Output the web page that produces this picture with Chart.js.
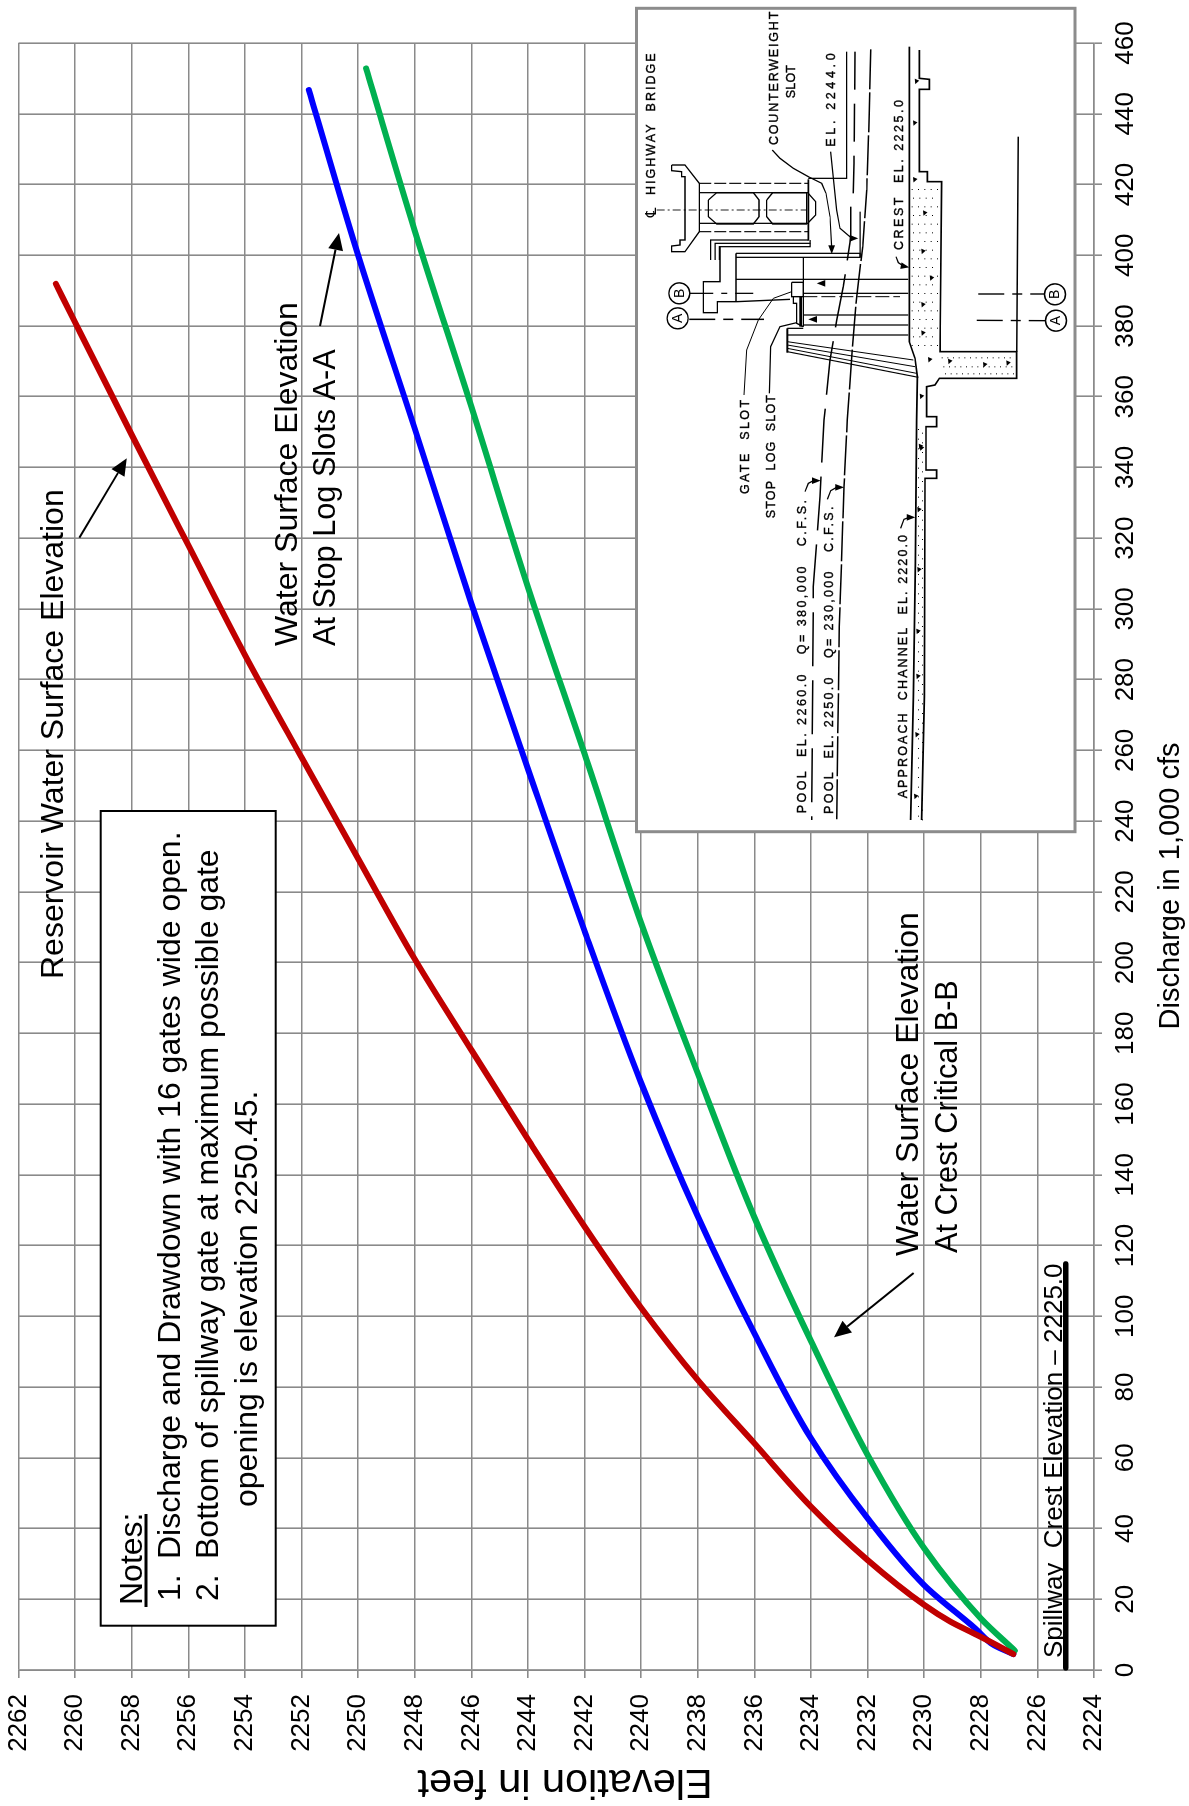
<!DOCTYPE html>
<html>
<head>
<meta charset="utf-8">
<title>Discharge and Drawdown</title>
<script src="https://cdn.jsdelivr.net/npm/chart.js@4"></script>
<style>
html, body { margin: 0; padding: 0; background: #fff; }
#wrap { position: relative; width: 1189px; height: 1806px; overflow: hidden; }
/* the whole sheet is a landscape chart turned a quarter turn */
#spillwayChart { position: absolute; left: 0; top: 0; transform-origin: 0 0; transform: translate(0, 1806px) rotate(-90deg); }
</style>
</head>
<body>
<div id="wrap"><canvas id="spillwayChart" width="1806" height="1189"></canvas></div>
<script>
// Discharge (1,000 cfs) and elevation (feet)
const reservoirQ = [4.5, 7.5, 10.4, 13.7, 18.4, 31.1, 46.2, 64.1, 82, 102.4, 125.4, 150, 175.3, 201, 229.4, 258, 287, 318, 349.2, 381, 391.9];
const reservoirElev = [2226.85, 2227.55, 2228.26, 2229.08, 2230, 2232, 2234, 2236, 2238, 2240, 2242, 2244, 2246, 2248, 2250, 2252, 2254, 2256, 2258, 2260, 2260.68];

const stopLogQ = [4.5, 7.1, 11.8, 24, 42.9, 65.5, 95.2, 128.3, 166, 209, 254.8, 301.5, 351, 400, 446.7];
const stopLogElev = [2226.85, 2227.55, 2228.2, 2230, 2232, 2234, 2236, 2238, 2240, 2242, 2244, 2246, 2248, 2250, 2251.74];

const crestCriticalQ = [5.5, 14.6, 34.4, 60.8, 93, 128, 168.7, 211.2, 259, 306.2, 357.2, 407, 452.8];
const crestCriticalElev = [2226.8, 2228, 2230, 2232, 2234, 2236, 2238, 2240, 2242, 2244, 2246, 2248, 2249.72];

const spillwayCrestQ = [0.6, 114.8];
const spillwayCrestElev = [2225, 2225];

const dischargeTicks = {min: 0, max: 460, step: 20};
const elevationTicks = {min: 2224, max: 2262, step: 2};

const FONT = '"Liberation Sans", Arial, sans-serif';

// sheet coordinates (as seen on the page) to canvas coordinates
function P(px, py) { return [1806 - py, px]; }

function sheetText(ctx, str, px, py, size, align) {
    ctx.font = size + "px " + FONT;
    ctx.fillStyle = "#000";
    ctx.textAlign = align || "left";
    ctx.textBaseline = "alphabetic";
    const p = P(px, py);
    ctx.fillText(str, p[0], p[1]);
}

function arrow(ctx, x0, y0, x1, y1) {
    const a = P(x0, y0), b = P(x1, y1);
    const ang = Math.atan2(b[1] - a[1], b[0] - a[0]);
    const len = 17, half = 7.5;
    const bx = b[0] - len * Math.cos(ang), by = b[1] - len * Math.sin(ang);
    ctx.strokeStyle = "#000";
    ctx.lineWidth = 2;
    ctx.beginPath();
    ctx.moveTo(a[0], a[1]);
    ctx.lineTo(bx, by);
    ctx.stroke();
    ctx.fillStyle = "#000";
    ctx.beginPath();
    ctx.moveTo(b[0], b[1]);
    ctx.lineTo(bx - half * Math.sin(ang), by + half * Math.cos(ang));
    ctx.lineTo(bx + half * Math.sin(ang), by - half * Math.cos(ang));
    ctx.closePath();
    ctx.fill();
}

// ---- spillway section sketch. Its points are measured in a 3x grid with origin at sheet (640, 30)
function Z(x, y) { return [1776 - y / 3, 640 + x / 3]; }

function sketchLine(ctx, pts, lw, dash) {
    ctx.lineWidth = (lw || 1) * 1.25;
    ctx.setLineDash(dash || []);
    ctx.beginPath();
    pts.forEach((p, i) => {
        const q = Z(p[0], p[1]);
        if (i == 0) ctx.moveTo(q[0], q[1]); else ctx.lineTo(q[0], q[1]);
    });
    ctx.stroke();
    ctx.setLineDash([]);
}

function sketchText(ctx, str, x, yStart, yEnd) {
    ctx.font = "12.5px " + FONT;
    ctx.letterSpacing = "0px";
    const target = (yStart - yEnd) / 3;
    const w = ctx.measureText(str).width;
    ctx.letterSpacing = ((target - w) / (str.length - 1)).toFixed(2) + "px";
    ctx.textAlign = "left";
    ctx.textBaseline = "alphabetic";
    ctx.fillStyle = "#000";
    ctx.strokeStyle = "#000";
    ctx.lineWidth = 0.35;
    const q = Z(x, yStart);
    ctx.fillText(str, q[0], q[1]);
    ctx.strokeText(str, q[0], q[1]);
    ctx.letterSpacing = "0px";
}

function sketchCircle(ctx, label, x, y) {
    const q = Z(x, y);
    ctx.lineWidth = 1.4;
    ctx.beginPath();
    ctx.arc(q[0], q[1], 10.5, 0, Math.PI * 2);
    ctx.stroke();
    ctx.font = "14px " + FONT;
    ctx.textAlign = "center";
    ctx.textBaseline = "middle";
    ctx.fillStyle = "#000";
    ctx.fillText(label, q[0], q[1] + 0.5);
}

function sketchHead(ctx, x, y, dx, dy) {
    // small solid arrow head, (dx,dy) points at the tip
    const n = Math.hypot(dx, dy), ux = dx / n, uy = dy / n;
    const a = Z(x, y), b = Z(x - 26 * ux + 10 * uy, y - 26 * uy - 10 * ux), c = Z(x - 26 * ux - 10 * uy, y - 26 * uy + 10 * ux);
    ctx.fillStyle = "#000";
    ctx.beginPath();
    ctx.moveTo(a[0], a[1]); ctx.lineTo(b[0], b[1]); ctx.lineTo(c[0], c[1]);
    ctx.closePath();
    ctx.fill();
}

function drawSketch(ctx) {
    ctx.strokeStyle = "#000";
    ctx.lineCap = "butt";
    ctx.lineJoin = "miter";

    // highway bridge
    sketchLine(ctx, [[95,405],[135,405],[178,460],[178,605],[135,665],[95,665],[95,648],[120,645],[120,630],[135,630],[135,440],[125,440],[125,425],[95,422],[95,405]], 1.1);
    sketchLine(ctx, [[178,460],[505,460]], 0.9, [12, 3]);
    sketchLine(ctx, [[178,488],[505,488]], 1);
    sketchLine(ctx, [[178,580],[505,580]], 1);
    sketchLine(ctx, [[178,605],[505,605]], 0.9, [12, 3]);
    sketchLine(ctx, [[505,448],[505,632]], 1.3);
    sketchLine(ctx, [[205,510],[230,488],[340,488],[357,510],[357,560],[340,582],[230,582],[205,560],[205,510]], 1.1);
    sketchLine(ctx, [[380,510],[398,488],[500,488],[500,582],[398,582],[380,560],[380,510]], 1.1);
    sketchLine(ctx, [[505,490],[527,515],[527,555],[505,578]], 1.1);
    sketchLine(ctx, [[50,540],[500,540]], 0.7, [8, 3, 2, 3]);

    // column and pier
    sketchLine(ctx, [[212,690],[212,630],[505,630]], 1);
    sketchLine(ctx, [[225,690],[225,640],[510,640],[510,630]], 1);
    sketchLine(ctx, [[238,690],[238,650],[510,650],[510,640]], 1);
    sketchLine(ctx, [[240,650],[240,755],[190,755],[190,848],[232,848],[232,815],[290,815],[450,808]], 1.1);
    sketchLine(ctx, [[288,670],[288,815]], 1.1);
    sketchLine(ctx, [[288,670],[660,670],[660,682],[288,682]], 1);
    sketchLine(ctx, [[660,545],[660,682]], 1);
    sketchLine(ctx, [[490,682],[490,890]], 1);
    sketchLine(ctx, [[288,748],[805,748]], 1);
    sketchLine(ctx, [[490,790],[805,790]], 1);
    sketchLine(ctx, [[490,800],[780,800]], 0.8, [14, 4]);
    sketchLine(ctx, [[490,855],[805,855]], 1);
    sketchLine(ctx, [[490,885],[805,885]], 1);
    sketchLine(ctx, [[455,757],[490,757],[490,800],[455,800],[455,757]], 1.1);
    sketchLine(ctx, [[460,800],[460,820],[470,820],[470,880],[490,890]], 1.1);
    sketchLine(ctx, [[482,800],[482,890]], 2.2);
    sketchLine(ctx, [[442,895],[490,895]], 1);
    sketchLine(ctx, [[442,895],[442,968]], 1.6);
    sketchLine(ctx, [[442,915],[805,915]], 1);
    sketchLine(ctx, [[442,935],[820,990]], 0.8);
    sketchLine(ctx, [[442,945],[825,1010]], 0.8);
    sketchLine(ctx, [[442,955],[830,1030]], 0.8);
    sketchLine(ctx, [[442,965],[835,1042]], 0.9);

    // water surface lines and the counterweight slot
    sketchLine(ctx, [[692,58],[688,250],[680,480],[668,650],[650,800],[635,980],[622,1170],[612,1370],[598,1790],[590,2370]], 1.2, [40, 3]);
    sketchLine(ctx, [[645,65],[642,400],[640,490]], 1.2, [38, 14]);
    sketchLine(ctx, [[632,530],[632,622],[610,770],[590,870],[570,990],[552,1170],[540,1400],[520,1670],[515,2370]], 1.2, [54, 14]);
    sketchLine(ctx, [[620,65],[620,445],[505,445]], 1);

    // spillway floor
    sketchLine(ctx, [[808,50],[808,935],[825,985],[832,1040],[830,1170],[826,1600],[820,2000],[812,2370]], 1.3);
    sketchLine(ctx, [[838,60],[838,145],[868,148],[868,178],[838,178],[838,425],[862,425],[862,455],[905,455],[900,965],[1130,965],[1130,1045],[898,1045],[885,1065],[860,1070],[860,1160],[890,1160],[890,1190],[858,1190],[858,1320],[890,1320],[890,1345],[855,1345],[853,2000],[845,2370]], 1.3);
    sketchLine(ctx, [[1135,320],[1130,965]], 1.2);

    // leaders
    sketchLine(ctx, [[397,360],[420,385],[460,415],[505,440],[545,460],[558,490],[570,560],[575,650]], 1);
    sketchHead(ctx, 575, 672, 0, 1);
    sketchLine(ctx, [[572,365],[590,540],[600,595],[632,622]], 1);
    sketchHead(ctx, 655, 625, 1, 0);
    sketchLine(ctx, [[768,680],[775,698],[790,708]], 1);
    sketchHead(ctx, 808, 712, 1, 0.2);
    sketchLine(ctx, [[312,1095],[320,960],[355,870],[400,805],[455,785]], 0.8);
    sketchLine(ctx, [[388,1090],[392,950],[420,890],[470,878]], 1);
    sketchLine(ctx, [[495,1385],[505,1360],[520,1352]], 1);
    sketchHead(ctx, 542, 1352, 1, 0);
    sketchLine(ctx, [[562,1408],[572,1382],[590,1372]], 1);
    sketchHead(ctx, 612, 1372, 1, 0);
    sketchLine(ctx, [[782,1495],[792,1468],[805,1463]], 1);
    sketchHead(ctx, 826, 1462, 1, 0);
    sketchHead(ctx, 530, 760, -1, 0);
    sketchHead(ctx, 505, 868, -1, 0);

    // section cuts
    sketchLine(ctx, [[148,790],[340,790]], 1, [24, 8, 6, 8]);
    sketchLine(ctx, [[148,868],[372,868]], 1.2, [26, 8, 10, 8]);
    sketchLine(ctx, [[1015,792],[1215,792]], 1.1, [26, 8, 10, 8]);
    sketchLine(ctx, [[1010,871],[1215,872]], 1.1, [26, 8, 10, 8]);
    sketchCircle(ctx, "B", 118, 790);
    sketchCircle(ctx, "A", 113, 865);
    sketchCircle(ctx, "B", 1245, 793);
    sketchCircle(ctx, "A", 1248, 872);

    // concrete speckle
    ctx.fillStyle = "#000";
    const chips = [[830,155],[825,280],[825,450],[855,550],[850,665],[875,745],[850,825],[850,910],[870,990],[930,995],[1035,1005],[1105,1000],[845,1100],[845,1255],[842,1250],[838,1440],[838,1620],[835,1805],[835,1940],[832,2115],[828,2300]];
    chips.forEach(c => {
        const q = Z(c[0], c[1]);
        ctx.beginPath();
        ctx.moveTo(q[0] - 2.5, q[1] - 1.5);
        ctx.lineTo(q[0] + 3, q[1] - 2);
        ctx.lineTo(q[0] + 1, q[1] + 2.5);
        ctx.closePath();
        ctx.fill();
    });
    for (let y = 480; y < 950; y += 26) {
        for (let x = 815 + (y % 4) * 2; x < 895; x += 19) {
            const q = Z(x, y);
            ctx.fillRect(q[0], q[1], 1, 1);
        }
    }
    for (let x = 905; x < 1125; x += 17) {
        [985, 1012, 1033].forEach((y, i) => {
            const q = Z(x + i * 5, y);
            ctx.fillRect(q[0], q[1], 1, 1);
        });
    }
    for (let y = 1200; y < 2370; y += 29) {
        [834, 846].forEach((x, i) => {
            const q = Z(x, y + i * 11);
            ctx.fillRect(q[0], q[1], 1, 1);
        });
    }

    // lettering
    ctx.font = "15px 'DejaVu Sans'";
    ctx.fillStyle = "#000";
    ctx.textAlign = "left";
    ctx.textBaseline = "alphabetic";
    const cl = Z(49, 562);
    ctx.fillText("\u2104", cl[0], cl[1]);
    sketchText(ctx, "HIGHWAY  BRIDGE", 45, 495, 70);
    sketchText(ctx, "COUNTERWEIGHT", 413, 345, -55);
    sketchText(ctx, "SLOT", 465, 205, 105);
    sketchText(ctx, "EL. 2244.0", 585, 350, 70);
    sketchText(ctx, "CREST  EL. 2225.0", 790, 660, 210);
    sketchText(ctx, "GATE  SLOT", 327, 1392, 1110);
    sketchText(ctx, "STOP  LOG  SLOT", 405, 1465, 1095);
    sketchText(ctx, "POOL  EL. 2260.0   Q= 380,000   C.F.S.", 497, 2350, 1410);
    sketchText(ctx, "POOL  EL. 2250.0   Q= 230,000   C.F.S.", 578, 2352, 1430);
    sketchText(ctx, "APPROACH  CHANNEL  EL. 2220.0", 800, 2305, 1515);
}

// ---- text, arrows and boxes that sit on the plot
const sheetNotes = {
    id: "sheetNotes",
    afterDatasetsDraw(chart) {
        const ctx = chart.ctx;
        ctx.save();

        // axis titles
        ctx.save();
        ctx.translate(25, 565);
        ctx.rotate(-Math.PI / 2);
        ctx.font = "41.5px " + FONT;
        ctx.fillStyle = "#000";
        ctx.textAlign = "center";
        ctx.textBaseline = "middle";
        ctx.fillText("Elevation in feet", 0, 0);
        ctx.restore();
        sheetText(ctx, "Discharge in 1,000 cfs", 1179, 886, 29, "center");

        // curve labels
        sheetText(ctx, "Reservoir Water Surface Elevation", 63, 979, 32);
        arrow(ctx, 79.3, 537.7, 126.7, 458.3);
        sheetText(ctx, "Water Surface Elevation", 296.7, 646, 32);
        sheetText(ctx, "At Stop Log Slots A-A", 335, 646, 30.7);
        arrow(ctx, 320, 326, 339, 233);
        sheetText(ctx, "Water Surface Elevation", 918, 1256, 32);
        sheetText(ctx, "At Crest Critical B-B", 957, 1253, 30.7);
        arrow(ctx, 913.6, 1273, 834, 1337.3);
        sheetText(ctx, "Spillway  Crest Elevation \u2013 2225.0", 1061.7, 1658, 26);

        // notes box
        ctx.fillStyle = "#fff";
        ctx.strokeStyle = "#000";
        ctx.lineWidth = 2;
        ctx.fillRect(180.3, 100.7, 814.7, 175);
        ctx.strokeRect(180.3, 100.7, 814.7, 175);
        sheetText(ctx, "Notes:", 141.7, 1605, 32);
        ctx.fillStyle = "#000";
        ctx.fillRect(1806 - 1607, 144.5, 93, 3);
        sheetText(ctx, "1.", 180, 1601, 32);
        sheetText(ctx, "Discharge and Drawdown with 16 gates wide open.", 180, 1559, 32);
        sheetText(ctx, "2.", 218, 1601, 32);
        sheetText(ctx, "Bottom of spillway gate at maximum possible gate", 218, 1559, 32);
        sheetText(ctx, "opening is elevation 2250.45.", 256.7, 1507, 32);

        // inset sketch
        ctx.fillStyle = "#fff";
        ctx.strokeStyle = "#8c8c8c";
        ctx.lineWidth = 3;
        ctx.fillRect(1806 - 831.7, 636.5, 823.4, 438.5);
        ctx.strokeRect(1806 - 831.7, 636.5, 823.4, 438.5);
        drawSketch(ctx);

        ctx.restore();
    }
};

function points(xs, ys) {
    return xs.map((x, i) => ({x: x, y: ys[i]}));
}

function curve(label, xs, ys, color, width) {
    return {
        label: label,
        data: points(xs, ys),
        borderColor: color,
        backgroundColor: color,
        borderWidth: width,
        borderCapStyle: "round",
        borderJoinStyle: "round",
        showLine: true,
        pointRadius: 0,
        cubicInterpolationMode: "monotone",
        clip: false
    };
}

const ctx = document.getElementById("spillwayChart").getContext("2d");
// first dataset ends up on top
const myChart = new Chart(ctx, {
    type: "scatter",
    data: {
        datasets: [
            curve("Reservoir Water Surface Elevation", reservoirQ, reservoirElev, "#c00000", 6),
            curve("Water Surface Elevation At Crest Critical B-B", crestCriticalQ, crestCriticalElev, "#00b050", 6),
            curve("Water Surface Elevation At Stop Log Slots A-A", stopLogQ, stopLogElev, "#0000ff", 6),
            curve("Spillway Crest Elevation", spillwayCrestQ, spillwayCrestElev, "#000000", 5.5)
        ]
    },
    options: {
        responsive: false,
        animation: false,
        layout: { padding: { top: 18.5, right: 43, bottom: 0, left: 0 } },
        plugins: {
            legend: { display: false },
            tooltip: { enabled: false },
            title: { display: false }
        },
        scales: {
            x: {
                type: "linear",
                min: dischargeTicks.min,
                max: dischargeTicks.max,
                afterFit(scale) { scale.height = 95; scale.paddingLeft = 0; scale.paddingRight = 0; },
                ticks: {
                    stepSize: dischargeTicks.step,
                    autoSkip: false,
                    maxRotation: 0,
                    padding: 8,
                    color: "#000",
                    font: { family: FONT, size: 26 }
                },
                grid: { color: "#8a8a8a", lineWidth: 1.6, tickLength: 8 },
                border: { color: "#8a8a8a", width: 1.6 }
            },
            y: {
                type: "linear",
                min: elevationTicks.min,
                max: elevationTicks.max,
                afterFit(scale) { scale.width = 136; scale.paddingTop = 0; scale.paddingBottom = 0; },
                ticks: {
                    stepSize: elevationTicks.step,
                    autoSkip: false,
                    padding: 16,
                    color: "#000",
                    font: { family: FONT, size: 26 },
                    callback: v => String(v)
                },
                grid: { color: "#8a8a8a", lineWidth: 1.6, tickLength: 8 },
                border: { color: "#8a8a8a", width: 1.6 }
            }
        }
    },
    plugins: [sheetNotes]
});
</script>
</body>
</html>
